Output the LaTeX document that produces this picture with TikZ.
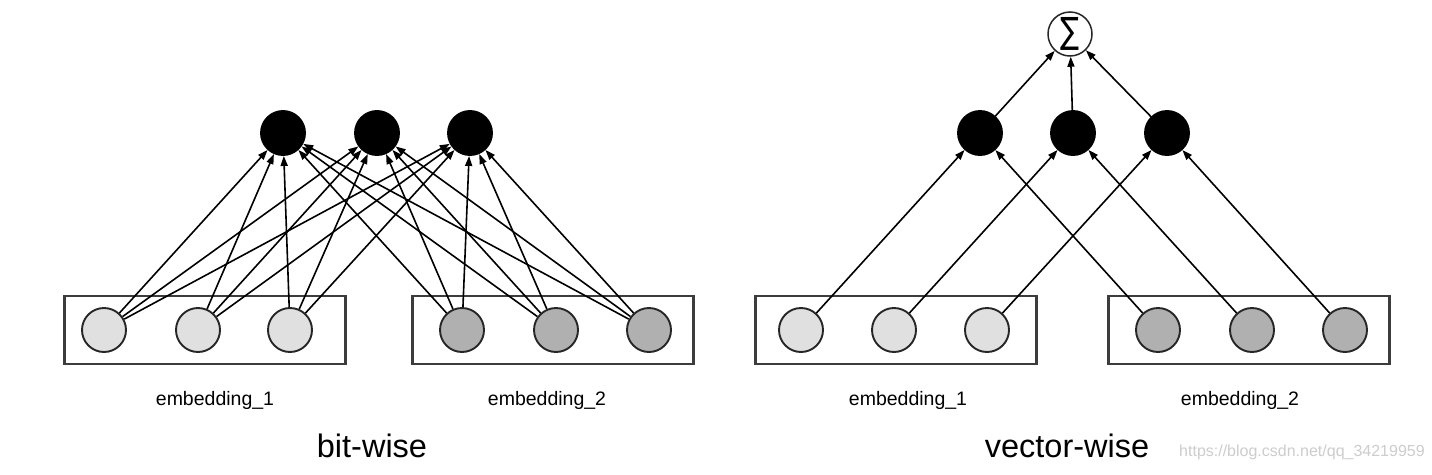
\documentclass[tikz,border=0pt]{standalone}
\usepackage{fontspec}
\setmainfont{Liberation Sans}
\newfontfamily\symfont{DejaVu Sans}
\usepackage{graphicx}
\usetikzlibrary{arrows.meta}
\definecolor{lightfill}{RGB}{224,224,224}
\definecolor{darkfill}{RGB}{176,176,176}
\definecolor{boxline}{RGB}{60,60,60}
\definecolor{wmark}{RGB}{205,205,205}
\begin{document}
\begin{tikzpicture}[x=1pt,y=-1pt,
  unit/.style={circle,draw=black!85,line width=1.9pt,minimum size=44pt,inner sep=0pt},
  lightunit/.style={unit,fill=lightfill},
  darkunit/.style={unit,fill=darkfill},
  hidden/.style={unit,fill=black,draw=black},
  sumnode/.style={unit,fill=white,line width=1.5pt},
  embbox/.style={draw=boxline,line width=2.3pt,minimum width=281pt,minimum height=68pt,inner sep=0pt},
  conn/.style={line width=1.6pt,-{Triangle[length=10pt,width=7pt]}},
  caption/.style={font=\fontsize{19.5}{23}\selectfont,anchor=base},
  title/.style={font=\fontsize{32.5}{38}\selectfont,anchor=base},
  wm/.style={font=\fontsize{16}{19}\selectfont,text=wmark,anchor=base west,inner sep=0pt}
]
\useasboundingbox[fill=white] (0,0) rectangle (1432,474);

% ---------- bit-wise ----------
\node[embbox] (boxA) at (205,330) {};
\node[embbox] (boxB) at (553,330) {};
\node[lightunit] (a1) at (104,330) {};
\node[lightunit] (a2) at (198,330) {};
\node[lightunit] (a3) at (290,330) {};
\node[darkunit] (a4) at (462,330) {};
\node[darkunit] (a5) at (556,330) {};
\node[darkunit] (a6) at (649,330) {};
\node[hidden] (h1) at (283,133) {};
\node[hidden] (h2) at (377,133) {};
\node[hidden] (h3) at (470,133) {};
\foreach \s in {a1,a2,a3,a4,a5,a6}
  \foreach \t in {h1,h2,h3}
    \draw[conn] (\s) -- (\t);
\node[caption] (capA) at (215,405) {embedding\_1};
\node[caption] (capB) at (547,405) {embedding\_2};
\node[title] (tA) at (372,457) {bit-wise};

% ---------- vector-wise ----------
\node[embbox] (boxC) at (896,330) {};
\node[embbox] (boxD) at (1249,330) {};
\node[lightunit] (c1) at (801,330) {};
\node[lightunit] (c2) at (894,330) {};
\node[lightunit] (c3) at (987,330) {};
\node[darkunit] (c4) at (1158,330) {};
\node[darkunit] (c5) at (1252,330) {};
\node[darkunit] (c6) at (1345,330) {};
\node[hidden] (k1) at (980,133) {};
\node[hidden] (k2) at (1073,133) {};
\node[hidden] (k3) at (1167,133) {};
\node[sumnode] (sum) at (1070,34) {\raisebox{-3pt}{\resizebox*{19pt}{33pt}{\symfont ∑}}};
\draw[conn] (c1) -- (k1);
\draw[conn] (c2) -- (k2);
\draw[conn] (c3) -- (k3);
\draw[conn] (c4) -- (k1);
\draw[conn] (c5) -- (k2);
\draw[conn] (c6) -- (k3);
\draw[conn] (k1) -- (sum);
\draw[conn] (k2) -- (sum);
\draw[conn] (k3) -- (sum);
\node[caption] (capC) at (908,405) {embedding\_1};
\node[caption] (capD) at (1240,405) {embedding\_2};
\node[title] (tB) at (1067,457) {vector-wise};
\node[wm] (wmark) at (1179,456) {https://blog.csdn.net/qq\_34219959};
\end{tikzpicture}
\end{document}
